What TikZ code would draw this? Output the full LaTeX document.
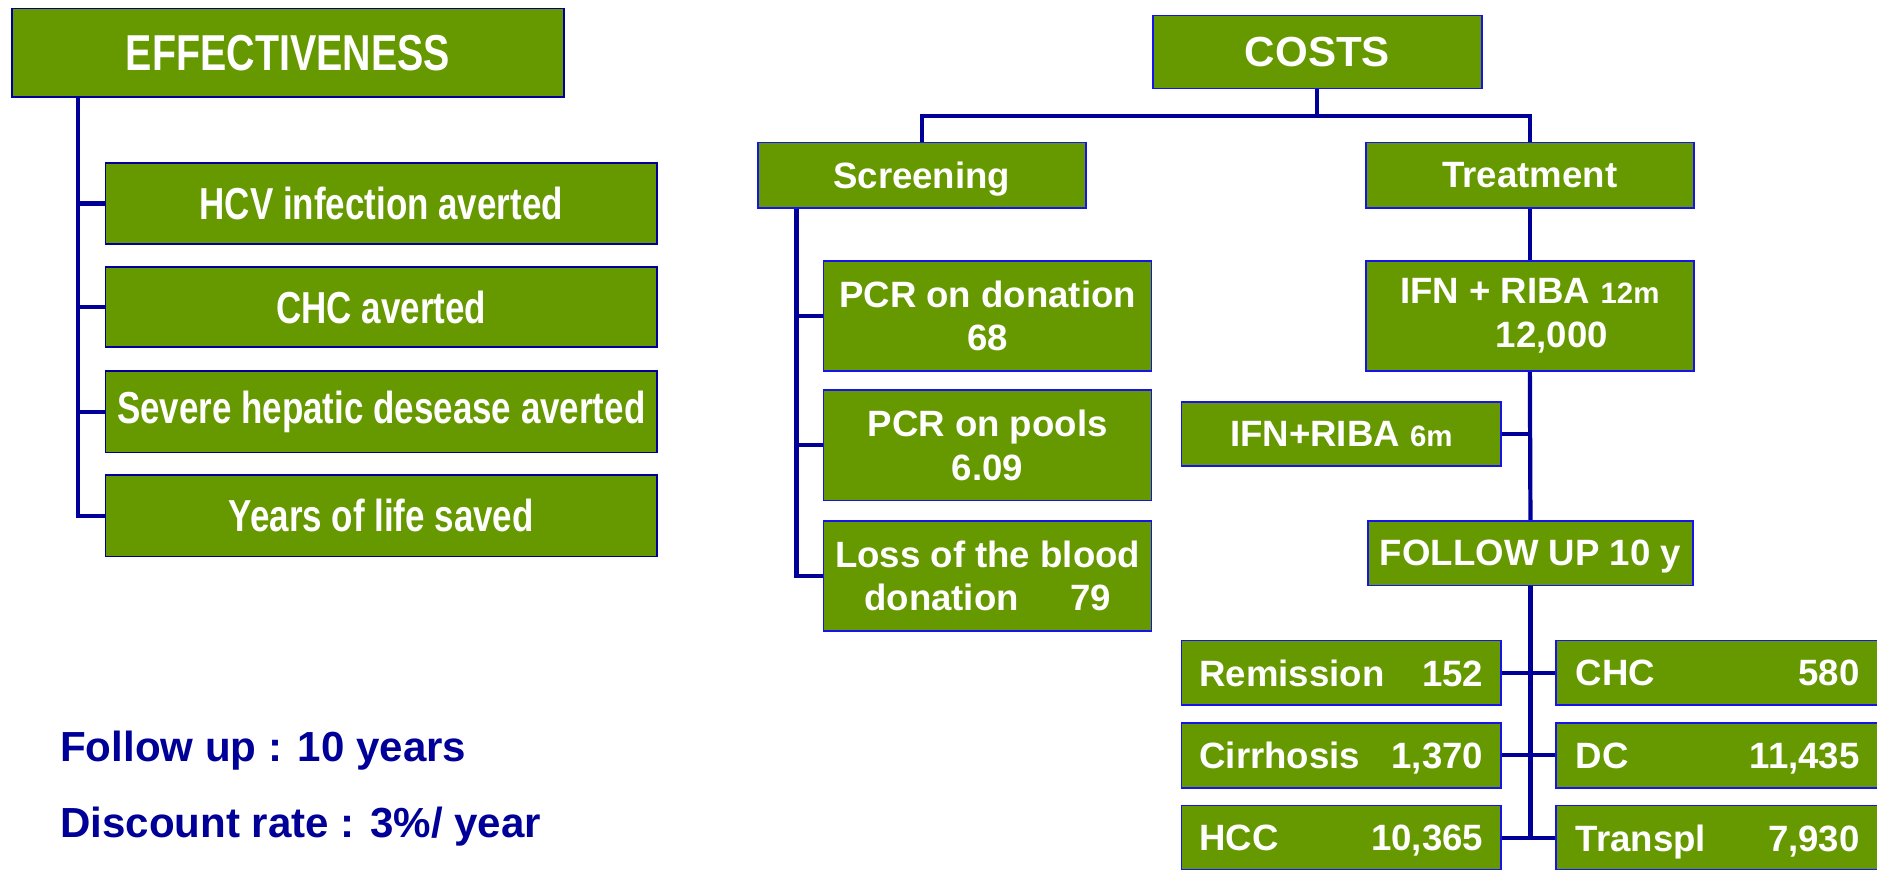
\documentclass[tikz,border=0pt]{standalone}
\usepackage{fontspec}
\setmainfont{Liberation Sans}
\newfontfamily\narrowfont[FakeStretch=0.78]{Liberation Sans}
\definecolor{boxgreen}{RGB}{102,153,0}
\definecolor{navy}{RGB}{0,0,153}
\definecolor{rimblue}{RGB}{20,20,235}
\tikzset{
  box/.style={rectangle, fill=boxgreen, text=white, inner sep=0pt, align=center, line width=0.8pt},
  effbox/.style={box, draw=navy, font=\narrowfont\bfseries\fontsize{21.3}{26}\selectfont,
    minimum width=9.22cm, minimum height=1.36cm},
  costbox/.style={box, draw=rimblue, font=\bfseries\fontsize{17.4}{20.8}\selectfont},
  stagebox/.style={costbox, text depth=0pt, minimum width=5.34cm, minimum height=1.08cm},
  note/.style={anchor=base west, inner sep=0pt, text=navy, font=\bfseries\fontsize{20}{24}\selectfont},
  link/.style={draw=navy, line width=2pt},
}
\begin{document}
\begin{tikzpicture}
  \useasboundingbox (0,0) rectangle (31.36,-14.52);
  \clip (0,0) rectangle (31.36,-14.52);

  \node[effbox, minimum height=1.48cm, font=\narrowfont\bfseries\fontsize{24}{28}\selectfont] (eff) at (4.81,-0.88) {EFFECTIVENESS};
  \node[effbox] (hcv) at (6.37,-3.40) {HCV infection averted};
  \node[effbox, minimum height=1.34cm] (chcav) at (6.37,-5.13) {CHC averted};
  \node[effbox] (sev) at (6.37,-6.88) {Severe hepatic desease averted};
  \node[effbox] (yrs) at (6.37,-8.62) {Years of life saved};
  \coordinate (efftrunk) at ([xshift=1.12cm]eff.south west);
  \draw[link] (efftrunk) |- (yrs.west);
  \foreach \n in {hcv,chcav,sev} \draw[link] (efftrunk |- \n.west) -- (\n.west);

  \node[note] (fu) at (1.0,-12.72) {Follow up : 10 years};
  \node[note] (dr) at (1.0,-14.0) {Discount rate : 3\%/ year};

  \node[costbox, minimum width=5.5cm, minimum height=1.22cm, font=\bfseries\fontsize{20}{24}\selectfont] (costs) at (22.01,-0.87) {COSTS};
  \node[costbox, text depth=0pt, minimum width=5.48cm, minimum height=1.1cm] (scr) at (15.4,-2.93) {Screening};
  \node[costbox, text depth=0pt, minimum width=5.48cm, minimum height=1.1cm] (trt) at (25.56,-2.93) {Treatment};
  \coordinate (split) at ([yshift=-0.44cm]costs.south);
  \draw[link] (costs.south) -- (split);
  \draw[link] (scr.north) |- (split) -| (trt.north);

  \node[costbox, minimum width=5.48cm, minimum height=1.84cm] (pcrd) at (16.5,-5.28) {PCR on donation\\68};
  \node[costbox, minimum width=5.48cm, minimum height=1.84cm] (pcrp) at (16.5,-7.44) {PCR on pools\\6.09};
  \node[costbox, minimum width=5.48cm, minimum height=1.84cm] (loss) at (16.5,-9.62) {Loss of the blood\\donation\hspace{1.4em}79};
  \coordinate (scrtrunk) at ([xshift=0.66cm]scr.south west);
  \draw[link] (scrtrunk) |- (loss.west);
  \foreach \n in {pcrd,pcrp} \draw[link] (scrtrunk |- \n.west) -- (\n.west);

  \node[costbox, minimum width=5.48cm, minimum height=1.84cm] (ifn12) at (25.56,-5.28) {IFN + RIBA {\fontsize{14}{17}\selectfont 12m}\\\hspace*{1.2em}12,000};
  \node[costbox, text depth=0pt, minimum width=5.34cm, minimum height=1.06cm] (ifn6) at (22.41,-7.25) {IFN+RIBA {\fontsize{14}{17}\selectfont 6m}};
  \node[costbox, text depth=0pt, minimum width=5.42cm, minimum height=1.08cm] (fol) at (25.57,-9.24) {FOLLOW UP 10 y};
  \draw[link] (trt.south) -- (ifn12.north);
  \draw[link] (ifn12.south) -- (fol.north);
  \draw[link] (ifn6.east) -- (ifn6.east -| ifn12.south);

  \node[stagebox] (rem) at (22.41,-11.24) {\makebox[4.74cm]{Remission\hfill 152}};
  \node[stagebox, minimum width=5.4cm] (chcst) at (28.7,-11.24) {\makebox[4.74cm]{CHC\hfill 580}};
  \node[stagebox] (cir) at (22.41,-12.62) {\makebox[4.74cm]{Cirrhosis\hfill 1,370}};
  \node[stagebox, minimum width=5.4cm] (dc) at (28.7,-12.62) {\makebox[4.74cm]{DC\hfill 11,435}};
  \node[stagebox] (hcc) at (22.41,-14.0) {\makebox[4.74cm]{HCC\hfill 10,365}};
  \node[stagebox, minimum width=5.4cm] (tra) at (28.7,-14.0) {\makebox[4.74cm]{Transpl\hfill 7,930}};
  \draw[link] (fol.south) -- (fol.south |- hcc.east);
  \foreach \a/\b in {rem/chcst,cir/dc,hcc/tra} \draw[link] (\a.east) -- (\b.west);
\end{tikzpicture}
\end{document}
